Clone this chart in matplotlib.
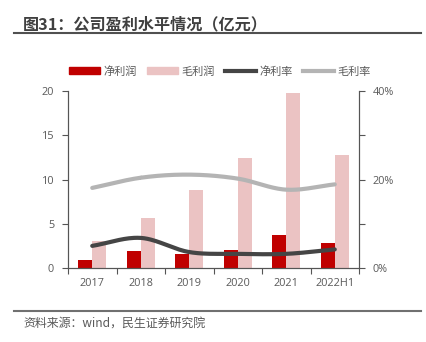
import numpy as np
import matplotlib
matplotlib.use('Agg')
import matplotlib.pyplot as plt
from matplotlib.lines import Line2D
from matplotlib.patches import Patch

plt.rcParams['font.family'] = ['Open Sans', 'Noto Sans CJK SC', 'DejaVu Sans']

years = ['2017', '2018', '2019', '2020', '2021', '2022H1']
net_profit = [0.94, 1.88, 1.60, 2.0, 3.68, 2.86]      # 亿元
gross_profit = [3.05, 5.65, 8.85, 12.43, 19.8, 12.73]  # 亿元
net_margin = [5.0, 6.8, 3.6, 3.2, 3.2, 4.2]            # %
gross_margin = [18.1, 20.4, 21.1, 20.2, 17.7, 18.9]    # %

RED = '#C00000'
PINK = '#EBC3C3'
DARK = '#454545'
GREY = '#B4B4B4'
TXT = '#595959'


def smooth(xs, ys, n=30):
    # Catmull-Rom style curve, like a "smoothed line" in office charts
    xs = np.asarray(xs, float); ys = np.asarray(ys, float)
    px = np.concatenate([[2 * xs[0] - xs[1]], xs, [2 * xs[-1] - xs[-2]]])
    py = np.concatenate([[2 * ys[0] - ys[1]], ys, [2 * ys[-1] - ys[-2]]])
    ox, oy = [], []
    for i in range(1, len(px) - 2):
        t = np.linspace(0, 1, n)
        p0, p1, p2, p3 = py[i - 1], py[i], py[i + 1], py[i + 2]
        oy.append(0.5 * ((2 * p1) + (-p0 + p2) * t + (2 * p0 - 5 * p1 + 4 * p2 - p3) * t**2
                         + (-p0 + 3 * p1 - 3 * p2 + p3) * t**3))
        ox.append(px[i] + (px[i + 1] - px[i]) * t)
    return np.concatenate(ox), np.concatenate(oy)


fig = plt.figure(figsize=(4.26, 3.42), dpi=100)
ax = fig.add_axes([68 / 426, 1 - 268 / 342, 291 / 426, 177 / 342])
ax2 = ax.twinx()

x = np.arange(len(years))
w = 0.29
ax.bar(x - w / 2, net_profit, w, color=RED, zorder=2)
ax.bar(x + w / 2, gross_profit, w, color=PINK, zorder=2)
ax.set_xlim(-0.5, len(years) - 0.5)
ax.set_ylim(0, 20)
ax.set_yticks([0, 5, 10, 15, 20])

sx, sy = smooth(x, gross_margin)
ax2.plot(sx, sy, color=GREY, lw=3, solid_capstyle='round')
sx, sy = smooth(x, net_margin)
ax2.plot(sx, sy, color=DARK, lw=3, solid_capstyle='round')
ax2.set_ylim(0, 40)
ax2.set_yticks([0, 10, 20, 30, 40])
ax2.set_yticklabels(['0%', '', '20%', '', '40%'])

ax.set_xticks(x)
ax.set_xticklabels(years)
ax.set_xticks(np.arange(-0.5, len(years)), minor=True)
ax.tick_params(axis='x', which='major', length=0, pad=7, labelsize=7.8, colors=TXT)
ax.tick_params(axis='x', which='minor', length=4, width=0.8, color='#555555', direction='out')
ax.tick_params(axis='y', length=4, width=0.8, color='#555555', labelsize=7.8, labelcolor=TXT, pad=6)
ax2.tick_params(axis='y', length=4, width=0.8, color='#555555', labelsize=7.8, labelcolor=TXT, pad=6)

for a in (ax, ax2):
    a.spines['top'].set_visible(False)
    for s in ('left', 'right', 'bottom'):
        a.spines[s].set_color('#555555')
        a.spines[s].set_linewidth(0.8)
ax2.set_zorder(ax.get_zorder() + 1)
ax2.patch.set_visible(False)

handles = [Patch(color=RED), Patch(color=PINK),
           Line2D([], [], color=DARK, lw=3), Line2D([], [], color=GREY, lw=3)]
labels = ['净利润', '毛利润', '净利率', '毛利率']
fig.legend(handles, labels, loc='center', bbox_to_anchor=(220 / 426, 1 - 72 / 342), ncol=4,
           frameon=False, fontsize=8, labelcolor=TXT, handlelength=2.8, handleheight=0.6,
           handletextpad=0.3, columnspacing=0.9)

fig.text(23 / 426, 1 - 24 / 342, '图31：公司盈利水平情况（亿元）', fontsize=11.6, fontweight='bold',
         color='#404040', va='center', family=['Noto Sans CJK SC'])
fig.add_artist(Line2D([14 / 426, 421 / 426], [1 - 32.5 / 342] * 2, color='#505050', lw=1.5))
fig.add_artist(Line2D([14 / 426, 421 / 426], [1 - 311 / 342] * 2, color='#707070', lw=1.5))
fig.text(23 / 426, 1 - 323 / 342, '资料来源：wind，民生证券研究院', fontsize=8.6, color=TXT, va='center',
         family=['Noto Sans CJK SC'])

fig.savefig('out.png', dpi=100)
